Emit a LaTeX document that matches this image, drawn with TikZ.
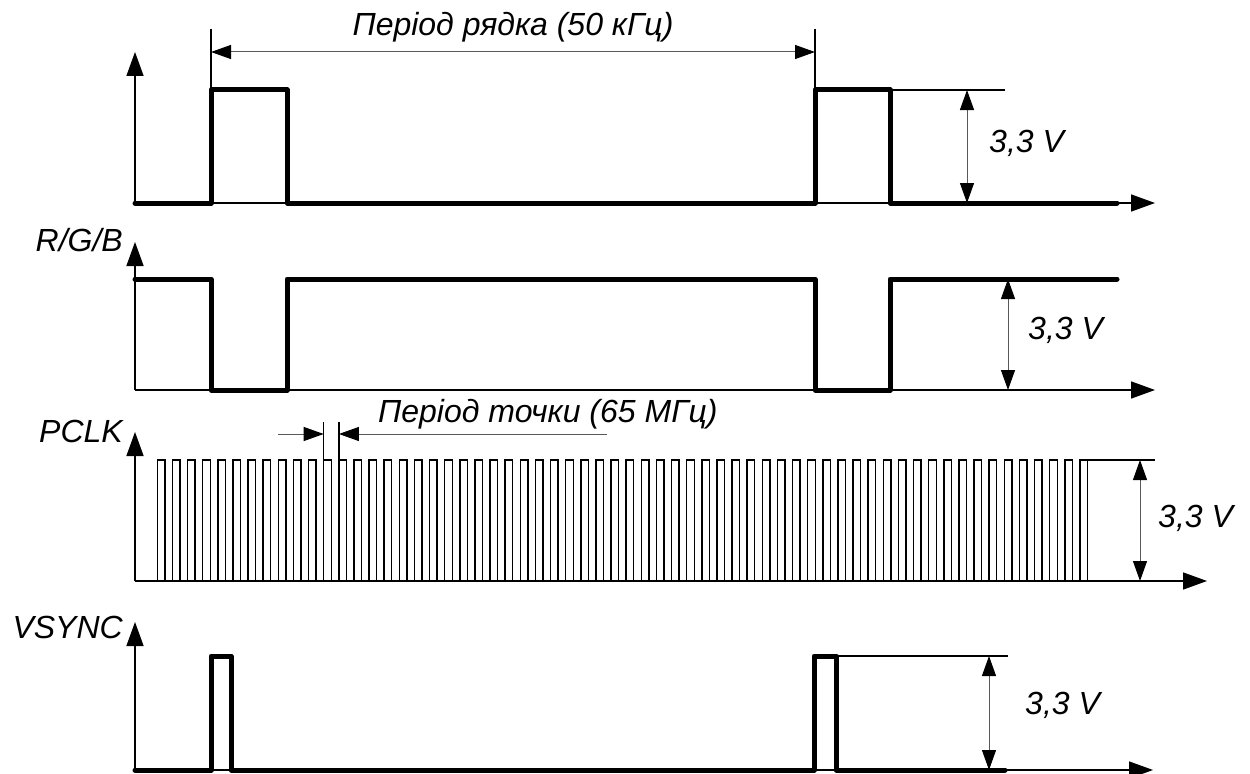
\documentclass[tikz,border=0pt]{standalone}
\usepackage{fontspec}
\setmainfont{Liberation Sans}
\usetikzlibrary{arrows.meta}
\begin{document}
\begin{tikzpicture}[x=1bp,y=-1bp,
  sig/.style={line width=5bp, line join=round, line cap=round},
  axis/.style={line width=1.5bp, -{Triangle[length=24bp,width=17bp]}},
  ext/.style={line width=1.2bp},
  dim/.style={line width=1bp, draw=black!65, {Triangle[length=20bp,width=14bp,color=black]}-{Triangle[length=20bp,width=14bp,color=black]}},
  dimone/.style={line width=1bp, draw=black!65, -{Triangle[length=20bp,width=14bp,color=black]}},
  lbl/.style={font=\fontsize{32bp}{38bp}\selectfont\itshape, inner sep=0pt},
  clk/.style={line width=1.4bp}
]
\useasboundingbox (0,0) rectangle (1250,774);

% ---------- panel 1 (line sync) ----------
\coordinate (o1) at (135,203); \coordinate (y1) at (135,52); \coordinate (x1) at (1155,203);
\draw[axis] (o1) -- (y1);
\draw[axis] (o1) -- (x1);
\draw[sig] (135,203) -- (211,203) -- (211,90) -- (287,90) -- (287,203) -- (815,203) -- (815,90) -- (890,90) -- (890,203) -- (1117,203);
% period dimension
\coordinate (pa) at (211,29); \coordinate (pb) at (815,29);
\coordinate (pat) at (211,90); \coordinate (pbt) at (815,90);
\coordinate (pal) at (211,52); \coordinate (pbl) at (815,52);
\draw[ext] (pa) -- (pat);
\draw[ext] (pb) -- (pbt);
\draw[dim] (pal) -- (pbl);
\node[lbl, anchor=base] (plabel) at (513,36) {Період рядка (50 кГц)};
% amplitude
\coordinate (e1a) at (890,90); \coordinate (e1b) at (1005,90);
\draw[ext] (e1a) -- (e1b);
\coordinate (d1t) at (967,90); \coordinate (d1b) at (967,203);
\draw[dim] (d1t) -- (d1b);
\node[lbl, anchor=west] (v1) at (989,143) {3,3 V};

% ---------- panel 2 (R/G/B) ----------
\coordinate (o2) at (135,390); \coordinate (y2) at (135,242); \coordinate (x2) at (1155,390);
\draw[axis] (o2) -- (y2);
\draw[axis] (o2) -- (x2);
\draw[sig] (135,279) -- (211,279) -- (211,390) -- (287,390) -- (287,279) -- (815,279) -- (815,390) -- (890,390) -- (890,279) -- (1117,279);
\node[lbl, anchor=base east] (rgb) at (123,251) {R/G/B};
\coordinate (d2t) at (1008,279); \coordinate (d2b) at (1008,390);
\draw[dim] (d2t) -- (d2b);
\node[lbl, anchor=west] (v2) at (1028,330) {3,3 V};

% ---------- panel 3 (PCLK) ----------
\coordinate (o3) at (135,581); \coordinate (y3) at (135,432); \coordinate (x3) at (1207,581);
\draw[axis] (o3) -- (y3);
\draw[axis] (o3) -- (x3);
\foreach \k in {0,...,60} {
  \pgfmathsetmacro\xa{157.3+15.125*\k}
  \pgfmathsetmacro\xb{\xa+7.56}
  \draw[clk] (\xa,581) -- (\xa,460) -- (\xb,460) -- (\xb,581);
}
\draw[clk] (1079.9,581) -- (1079.9,460) -- (1087.3,460) -- (1087.3,581);
\node[lbl, anchor=base east] (pclk) at (123,442) {PCLK};
% pixel period dimension
\coordinate (c1) at (323.7,422); \coordinate (c1t) at (323.7,460);
\coordinate (c2) at (338.9,422); \coordinate (c2t) at (338.9,460);
\draw[ext] (c1) -- (c1t);
\draw[ext] (c2) -- (c2t);
\coordinate (c1a) at (278,434); \coordinate (c1h) at (323.7,434);
\coordinate (c2a) at (607,434); \coordinate (c2h) at (338.9,434);
\draw[dimone] (c1a) -- (c1h);
\draw[dimone] (c2a) -- (c2h);
\node[lbl, anchor=base west] (tlabel) at (378,422) {Період точки (65 МГц)};
% amplitude
\coordinate (e3a) at (1087.3,460); \coordinate (e3b) at (1155,460);
\draw[ext] (e3a) -- (e3b);
\coordinate (d3t) at (1140,460); \coordinate (d3b) at (1140,581);
\draw[dim] (d3t) -- (d3b);
\node[lbl, anchor=west] (v3) at (1158,518) {3,3 V};

% ---------- panel 4 (VSYNC) ----------
\coordinate (o4) at (135,770); \coordinate (y4) at (135,622); \coordinate (x4) at (1153,770);
\draw[axis] (o4) -- (y4);
\draw[axis] (o4) -- (x4);
\draw[sig] (135,770) -- (211,770) -- (211,656) -- (231,656) -- (231,770) -- (814,770) -- (814,656) -- (836,656) -- (836,770) -- (1005,770);
\node[lbl, anchor=base east] (vsync) at (123,638) {VSYNC};
\coordinate (e4a) at (836,656); \coordinate (e4b) at (1008,656);
\draw[ext] (e4a) -- (e4b);
\coordinate (d4t) at (989,656); \coordinate (d4b) at (989,770);
\draw[dim] (d4t) -- (d4b);
\node[lbl, anchor=west] (v4) at (1025,705) {3,3 V};
\end{tikzpicture}
\end{document}
